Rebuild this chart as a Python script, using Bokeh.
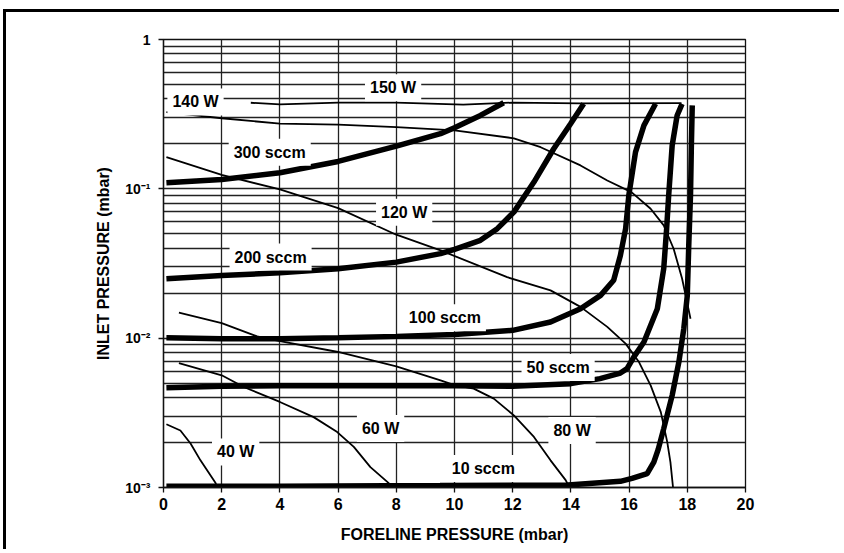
from bokeh.plotting import figure
from bokeh.models import FixedTicker, Label
from bokeh.embed import file_html
from bokeh.resources import INLINE

# ---- data (foreline pressure in mbar, inlet pressure in mbar) ----
x_10sccm = [0.1, 4.0, 9.5, 13.9, 15.7, 16.1, 16.62, 16.85, 17.0, 17.19, 17.48, 17.71, 17.88, 18.0, 18.05, 18.11, 18.14, 18.17]
y_10sccm = [0.00102, 0.00102, 0.00103, 0.00104, 0.0011, 0.00115, 0.00124, 0.00148, 0.0018, 0.00248, 0.00414, 0.00692, 0.0116, 0.0193, 0.0418, 0.0903, 0.195, 0.362]

x_50sccm = [0.1, 2.0, 4.0, 10.0, 12.0, 14.0, 15.0, 15.7, 15.93, 16.16, 16.51, 16.97, 17.19, 17.29, 17.36, 17.48, 17.65, 17.82]
y_50sccm = [0.00466, 0.00476, 0.0048, 0.0048, 0.00476, 0.00496, 0.00536, 0.00584, 0.00625, 0.00747, 0.00942, 0.01575, 0.0292, 0.0541, 0.0903, 0.195, 0.310, 0.371]

x_100sccm = [0.1, 2.0, 4.0, 6.0, 8.0, 10.0, 12.0, 13.3, 14.33, 15.02, 15.47, 15.70, 15.88, 15.99, 16.22, 16.51, 16.91]
y_100sccm = [0.01007, 0.00992, 0.00992, 0.01007, 0.01028, 0.0106, 0.01128, 0.01282, 0.01575, 0.01935, 0.0244, 0.0358, 0.0541, 0.0903, 0.176, 0.266, 0.371]

x_200sccm = [0.1, 2.0, 4.0, 6.0, 8.0, 9.52, 10.0, 10.89, 11.47, 12.04, 12.73, 13.41, 13.99, 14.44]
y_200sccm = [0.0250, 0.0263, 0.0274, 0.0292, 0.0323, 0.0368, 0.0393, 0.0452, 0.0541, 0.0698, 0.111, 0.1855, 0.273, 0.371]

x_300sccm = [0.1, 2.0, 4.0, 6.0, 8.0, 9.52, 10.0, 10.89, 11.69]
y_300sccm = [0.110, 0.1156, 0.128, 0.1525, 0.193, 0.234, 0.2565, 0.310, 0.377]

x_150W = [3.0, 4.0, 6.0, 8.0, 10.3, 12.0, 14.3, 17.8]
y_150W = [0.377, 0.368, 0.378, 0.378, 0.366, 0.378, 0.373, 0.375]

x_140W = [0.1, 2.0, 4.0, 6.0, 8.0, 10.0, 12.04, 12.96, 14.33, 15.25, 16.08, 16.74, 17.19, 17.53, 17.82, 17.99, 18.11]
y_140W = [0.326, 0.297, 0.273, 0.269, 0.259, 0.246, 0.218, 0.190, 0.1435, 0.1138, 0.0951, 0.0736, 0.0569, 0.0397, 0.0251, 0.0175, 0.0135]

x_120W = [0.1, 2.0, 4.0, 6.0, 8.0, 9.52, 11.81, 13.3, 14.33, 15.25, 15.88, 16.34, 16.74, 17.09, 17.31, 17.42, 17.51]
y_120W = [0.163, 0.124, 0.0991, 0.0743, 0.0493, 0.0387, 0.0256, 0.0209, 0.0162, 0.0119, 0.00919, 0.00692, 0.00483, 0.00320, 0.00202, 0.00148, 0.00100]

x_80W = [0.53, 2.0, 3.22, 4.0, 6.0, 8.0, 9.52, 10.0, 10.66, 11.35, 12.04, 12.73, 13.30, 13.82, 13.95]
y_80W = [0.01482, 0.01262, 0.01028, 0.00957, 0.00808, 0.00648, 0.00522, 0.00485, 0.00459, 0.00394, 0.00304, 0.00218, 0.00152, 0.00112, 0.00100]

x_60W = [0.53, 2.0, 2.76, 4.0, 5.16, 5.97, 6.54, 7.11, 7.74, 7.8]
y_60W = [0.00681, 0.00564, 0.00471, 0.00374, 0.00296, 0.00235, 0.00187, 0.00137, 0.00107, 0.00100]

x_40W = [0.1, 0.58, 0.93, 1.27, 1.79, 1.85]
y_40W = [0.00265, 0.00241, 0.00197, 0.00152, 0.00107, 0.00100]

thick_series = [(x_10sccm, y_10sccm), (x_50sccm, y_50sccm), (x_100sccm, y_100sccm),
                (x_200sccm, y_200sccm), (x_300sccm, y_300sccm)]
thin_series = [(x_150W, y_150W), (x_140W, y_140W), (x_120W, y_120W),
               (x_80W, y_80W), (x_60W, y_60W), (x_40W, y_40W)]

label_text = ["140 W", "150 W", "300 sccm", "120 W", "200 sccm", "100 sccm",
              "50 sccm", "60 W", "40 W", "80 W", "10 sccm"]
label_x = [1.1, 7.89, 3.65, 8.27, 3.68, 9.67, 13.56, 7.46, 2.48, 14.04, 10.99]
label_y = [0.382, 0.475, 0.176, 0.0698, 0.0349, 0.0137, 0.00635, 0.00248, 0.00173, 0.00241, 0.00134]

x_ticks = [0, 2, 4, 6, 8, 10, 12, 14, 16, 18, 20]
y_ticks = [0.001, 0.01, 0.1, 1]
y_tick_labels = ["10\u207b\u00b3", "10\u207b\u00b2", "10\u207b\u00b9", "1"]
y_minor = [k * d for d in (0.001, 0.01, 0.1) for k in range(2, 10)]

FONT = "Liberation Sans"

p = figure(width=836, height=540, x_range=(0, 20), y_range=(0.001, 1),
           y_axis_type="log", output_backend="svg", toolbar_location=None,
           min_border_left=157, min_border_right=97, min_border_top=27,
           min_border_bottom=65, border_fill_color="white")
p.styles = {"margin-left": "6px", "margin-top": "12px",
            "box-shadow": "-3px -3px 0px 0px black"}

p.outline_line_color = "#111111"
p.outline_line_width = 1.3

xt = FixedTicker(ticks=x_ticks)
yt = FixedTicker(ticks=y_ticks, minor_ticks=y_minor)
p.xaxis.ticker = xt
p.yaxis.ticker = yt
p.xgrid.ticker = xt
p.ygrid.ticker = yt

for g in (p.xgrid, p.ygrid):
    g.grid_line_color = "#222222"
    g.grid_line_width = 1.3
    g.grid_line_alpha = 1.0
p.ygrid.minor_grid_line_color = "#222222"
p.ygrid.minor_grid_line_width = 1.3
p.ygrid.minor_grid_line_alpha = 1.0

p.yaxis.major_label_overrides = {v: s for v, s in zip(y_ticks, y_tick_labels)}

for ax in (p.xaxis, p.yaxis):
    ax.axis_line_color = "#111111"
    ax.axis_line_width = 1.3
    ax.major_tick_line_color = "#111111"
    ax.major_tick_line_width = 1.3
    ax.major_tick_in = 0
    ax.major_tick_out = 5
    ax.minor_tick_line_color = None
    ax.major_label_text_font = FONT
    ax.major_label_text_font_style = "bold"
    ax.major_label_text_color = "black"
    ax.axis_label_text_font = FONT
    ax.axis_label_text_font_style = "bold"
    ax.axis_label_text_font_size = "16px"
    ax.axis_label_text_color = "black"

p.xaxis.major_label_text_font_size = "16px"
p.yaxis.major_label_text_font_size = "14px"
p.xaxis.major_label_standoff = 5
p.yaxis.major_label_standoff = 8
p.xaxis.axis_label = "FORELINE PRESSURE (mbar)"
p.yaxis.axis_label = "INLET PRESSURE (mbar)"
p.xaxis.axis_label_standoff = 13
p.yaxis.axis_label_standoff = 10

for xs, ys in thin_series:
    p.line(xs, ys, line_color="black", line_width=1.8)
for xs, ys in thick_series:
    p.line(xs, ys, line_color="black", line_width=5.5)

for t, lx, ly in zip(label_text, label_x, label_y):
    p.add_layout(Label(x=lx, y=ly, text=t, text_font=FONT, text_font_style="bold",
                       text_font_size="16px", text_align="center", text_baseline="middle",
                       text_color="black", background_fill_color="white", padding=5))

open("out.html", "w").write(file_html(p, INLINE))
